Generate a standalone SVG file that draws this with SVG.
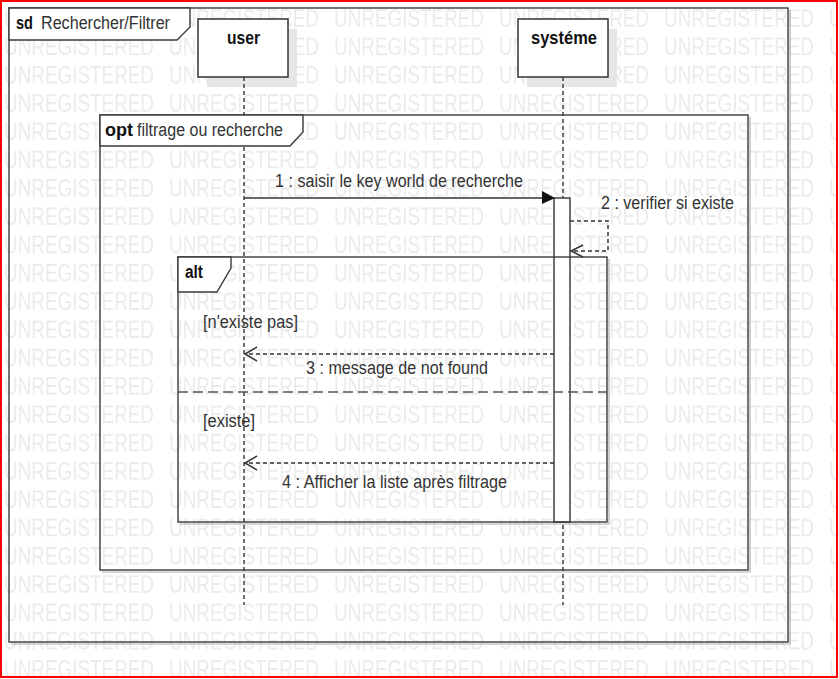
<svg xmlns="http://www.w3.org/2000/svg" width="839" height="679" viewBox="0 0 839 679">
  <style>
    .t { font-family: "Liberation Sans Narrow", "Liberation Sans", Arial, sans-serif; fill: #333; font-size: 18px; }
    .b { font-weight: bold; fill: #111; }
    .frame { fill: none; stroke: #3a3a3a; stroke-width: 1.4; }
    .fshadow { fill: none; stroke: #b0b0b0; stroke-width: 1.2; }
    .tab { fill: #fff; stroke: #3a3a3a; stroke-width: 1.4; }
    .box { fill: #fff; stroke: #333; stroke-width: 1.5; }
    .shadow { fill: #e6e6e6; }
    .life { stroke: #333; stroke-width: 1.4; stroke-dasharray: 4 3; fill: none; }
    .msg { stroke: #333; stroke-width: 1.5; fill: none; }
    .ret { stroke: #333; stroke-width: 1.5; fill: none; stroke-dasharray: 4 3; }
    .arr { stroke: #333; stroke-width: 1.5; fill: none; }
    .wm { font-family: "Liberation Sans Narrow", "Liberation Sans", Arial, sans-serif; font-size: 25px; fill: #ebebeb; }
  </style>
  <defs>
    <pattern id="wmPat" patternUnits="userSpaceOnUse" x="4" y="3.4" width="165" height="28.3">
      <text class="wm" x="0" y="23" textLength="150" lengthAdjust="spacingAndGlyphs">UNREGISTERED</text>
    </pattern>
  </defs>

  <rect x="0" y="0" width="839" height="679" fill="#fff"/>
  <rect id="watermark" x="2" y="2" width="835" height="675" fill="url(#wmPat)"/>

  <g id="frame-sd">
    <polyline class="fshadow" points="790,10 790,644 11,644"/>
    <rect class="frame" x="9" y="8" width="779" height="634"/>
    <polygon class="tab" points="9,8 190,8 190,27 177,40 9,40"/>
    <text class="t b" x="16" y="29" textLength="17" lengthAdjust="spacingAndGlyphs">sd</text>
    <text class="t" x="41" y="29" textLength="129" lengthAdjust="spacingAndGlyphs">Rechercher/Filtrer</text>
  </g>

  <g id="node-user">
    <rect class="shadow" x="207" y="29" width="90" height="58"/>
    <rect class="box" x="198" y="19" width="90" height="58"/>
    <text class="t b" x="227" y="44" textLength="33" lengthAdjust="spacingAndGlyphs">user</text>
  </g>

  <g id="node-systeme">
    <rect class="shadow" x="527" y="29" width="90" height="58"/>
    <rect class="box" x="518" y="19" width="90" height="58"/>
    <text class="t b" x="531" y="44" textLength="66" lengthAdjust="spacingAndGlyphs">systéme</text>
  </g>

  <g id="lifelines">
    <line class="life" x1="244" y1="77" x2="244" y2="605"/>
    <line class="life" x1="563" y1="77" x2="563" y2="605"/>
  </g>

  <g id="frame-opt">
    <polyline class="fshadow" points="750,117 750,572 102,572"/>
    <rect class="frame" x="100" y="115" width="648" height="455"/>
    <polygon class="tab" points="100,115 303,115 303,132 290,146 100,146"/>
    <text class="t b" x="105" y="136" textLength="28" lengthAdjust="spacingAndGlyphs">opt</text>
    <text class="t" x="137" y="136" textLength="146" lengthAdjust="spacingAndGlyphs">filtrage ou recherche</text>
  </g>

  <g id="activation">
    <rect class="box" x="554" y="198" width="16" height="324" style="stroke-width:1.4"/>
  </g>

  <g id="frame-alt">
    <polyline class="fshadow" points="609,259 609,524 180,524"/>
    <rect class="frame" x="178" y="257" width="429" height="265"/>
    <polygon class="tab" points="178,257 231,257 231,268 217,292 178,292"/>
    <text class="t b" x="185" y="278" textLength="18" lengthAdjust="spacingAndGlyphs">alt</text>
    <text class="t" x="203" y="328" textLength="95" lengthAdjust="spacingAndGlyphs">[n'existe pas]</text>
    <line x1="178" y1="392" x2="607" y2="392" stroke="#555" stroke-width="1.5" stroke-dasharray="10 5"/>
    <text class="t" x="203" y="427" textLength="52" lengthAdjust="spacingAndGlyphs">[existe]</text>
  </g>

  <g id="connectors">
    <g id="msg1">
      <line class="msg" x1="244" y1="198" x2="544" y2="198"/>
      <polygon points="542,191 555,198 542,204" fill="#111"/>
      <text class="t" x="275" y="187" textLength="248" lengthAdjust="spacingAndGlyphs">1 : saisir le key world de recherche</text>
    </g>
    <g id="msg2">
      <polyline class="ret" points="570,221 608,221 608,251 571,251"/>
      <polyline class="arr" points="583,245 571,251 583,257"/>
      <text class="t" x="601" y="209" textLength="133" lengthAdjust="spacingAndGlyphs">2 : verifier si existe</text>
    </g>
    <g id="msg3">
      <line class="ret" x1="554" y1="354" x2="245" y2="354"/>
      <polyline class="arr" points="257,347 245,354 257,361"/>
      <text class="t" x="306" y="374" textLength="182" lengthAdjust="spacingAndGlyphs">3 : message de not found</text>
    </g>
    <g id="msg4">
      <line class="ret" x1="554" y1="463" x2="245" y2="463"/>
      <polyline class="arr" points="257,456 245,463 257,470"/>
      <text class="t" x="282" y="488" textLength="225" lengthAdjust="spacingAndGlyphs">4 : Afficher la liste après filtrage</text>
    </g>
  </g>

  <rect id="border" x="1" y="1" width="836" height="676" fill="none" stroke="#ff0000" stroke-width="2"/>
</svg>
